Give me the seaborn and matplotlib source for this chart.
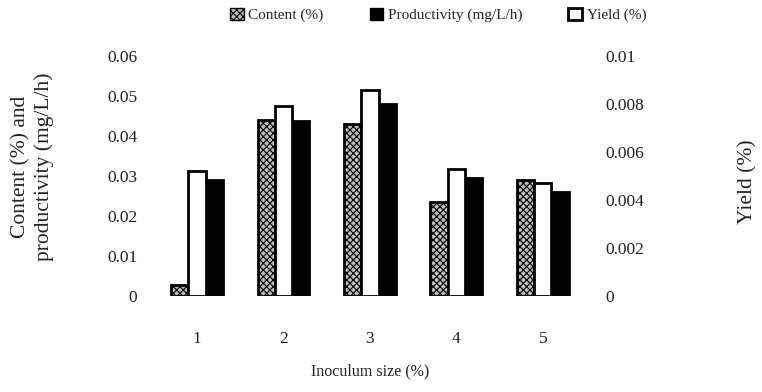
import matplotlib
matplotlib.use("Agg")
import matplotlib.pyplot as plt
from matplotlib.patches import Patch
import seaborn as sns
import pandas as pd

sizes = ["1", "2", "3", "4", "5"]
content = [0.0028, 0.044, 0.043, 0.0235, 0.029]
productivity = [0.029, 0.0438, 0.048, 0.0295, 0.026]
yield_pct = [0.0052, 0.0079, 0.0086, 0.0053, 0.0047]

left_ticks = [0, 0.01, 0.02, 0.03, 0.04, 0.05, 0.06]
left_labels = ["0", "0.01", "0.02", "0.03", "0.04", "0.05", "0.06"]
right_ticks = [0, 0.002, 0.004, 0.006, 0.008, 0.01]
right_labels = ["0", "0.002", "0.004", "0.006", "0.008", "0.01"]

names = ["Content (%)", "Yield (%)", "Productivity (mg/L/h)"]

sns.set_theme(style="white")
plt.rcParams["font.family"] = ["Liberation Serif", "DejaVu Serif"]
plt.rcParams["hatch.linewidth"] = 0.8

left_df = pd.DataFrame({
    "size": sizes * 2,
    "series": [names[0]] * 5 + [names[2]] * 5,
    "value": content + productivity,
})
right_df = pd.DataFrame({
    "size": sizes,
    "series": [names[1]] * 5,
    "value": yield_pct,
})

fig = plt.figure(figsize=(7.62, 3.92), dpi=100)
ax = fig.add_axes([0.202, 0.245, 0.567, 0.612])
ax2 = ax.twinx()

palette = {names[0]: "#bdbdbd", names[1]: "white", names[2]: "black"}

sns.barplot(data=left_df, x="size", y="value", hue="series", hue_order=names,
            palette=palette, order=sizes, width=0.6, ax=ax, legend=False,
            dodge=True, edgecolor="black", linewidth=2.0, saturation=1)
sns.barplot(data=right_df, x="size", y="value", hue="series", hue_order=names,
            palette=palette, order=sizes, width=0.6, ax=ax2, legend=False,
            dodge=True, edgecolor="black", linewidth=2.0, saturation=1)

for p in ax.patches:
    fc = p.get_facecolor()
    if 0.6 < fc[0] < 0.8:
        p.set_hatch("xxxxx")

ax.set_ylim(0, 0.06)
ax2.set_ylim(0, 0.01)
ax.set_xlim(-0.5, 4.5)
ax.set_yticks(left_ticks)
ax.set_yticklabels(left_labels)
ax2.set_yticks(right_ticks)
ax2.set_yticklabels(right_labels)

for a in (ax, ax2):
    for s in a.spines.values():
        s.set_visible(False)
    a.tick_params(length=0, labelsize=12.5, colors="#222222")
ax.tick_params(axis="y", pad=12)
ax2.tick_params(axis="y", pad=14)
ax.tick_params(axis="x", pad=25)

ax.set_xlabel("Inoculum size (%)", fontsize=11.5, labelpad=12, color="#222222")
ax.set_ylabel("Content (%) and\nproductivity (mg/L/h)", fontsize=15.5,
              color="#222222", va="center", ha="center", linespacing=1.25)
ax.yaxis.set_label_coords(-0.28, 0.54)
ax2.set_ylabel("Yield (%)", fontsize=15.5, color="#222222", va="center", ha="center")
ax2.yaxis.set_label_coords(1.375, 0.475)

handles = [
    Patch(facecolor="#bdbdbd", edgecolor="black", hatch="xxxxx", label=names[0]),
    Patch(facecolor="black", edgecolor="black", label=names[2]),
    Patch(facecolor="white", edgecolor="black", linewidth=2, label=names[1]),
]
fig.legend(handles=handles, loc="center", bbox_to_anchor=(0.575, 0.962), ncol=3,
           frameon=False, fontsize=11, handlelength=0.9, handleheight=0.9,
           handletextpad=0.3, columnspacing=3.0)

fig.savefig("out.png", dpi=100)
